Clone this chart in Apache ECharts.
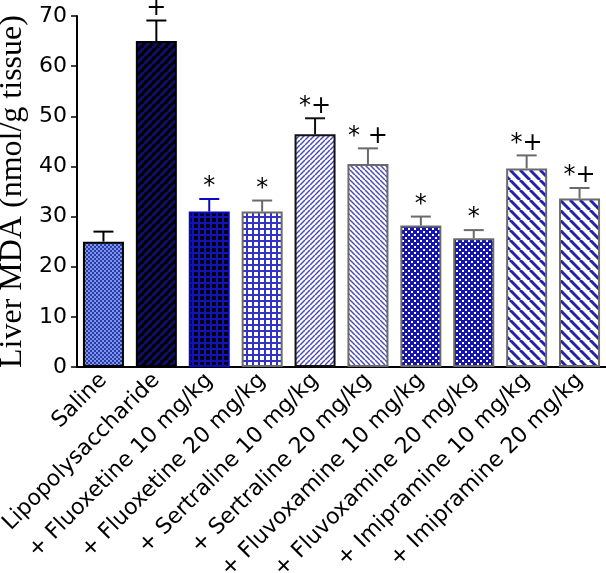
<!DOCTYPE html>
<html>
<head>
<meta charset="utf-8">
<script src="https://cdn.jsdelivr.net/npm/echarts@6/dist/echarts.min.js"></script>
<style>
  html, body { margin: 0; padding: 0; background: #fff; }
  #myChart { width: 606px; height: 573px; }
</style>
</head>
<body>
<div id="myChart"></div>
<script>
const categories = ['Saline', 'Lipopolysaccharide', '+ Fluoxetine 10 mg/kg', '+ Fluoxetine 20 mg/kg',
  '+ Sertraline 10 mg/kg', '+ Sertraline 20 mg/kg', '+ Fluvoxamine 10 mg/kg', '+ Fluvoxamine 20 mg/kg',
  '+ Imipramine 10 mg/kg', '+ Imipramine 20 mg/kg'];
const means = [25, 65, 31, 31, 46.4, 40.5, 28.2, 25.7, 39.6, 33.6];
const errTops = [27, 69.1, 33.5, 33.2, 49.6, 43.6, 30, 27.3, 42.2, 35.7];
const marks = ['', '+', '*', '*', '*+', '* +', '*', '*', '*+', '*+'];
const yTicks = [0, 10, 20, 30, 40, 50, 60, 70];

// small canvas tiles used as fill patterns
function tile(size, draw) {
  const c = document.createElement('canvas');
  c.width = size; c.height = size;
  draw(c.getContext('2d'), size);
  return { image: c, repeat: 'repeat' };
}
function checker(cell, a, b) {
  return tile(cell * 2, (g, s) => {
    g.fillStyle = a; g.fillRect(0, 0, s, s);
    g.fillStyle = b; g.fillRect(0, 0, cell, cell); g.fillRect(cell, cell, cell, cell);
  });
}
function grid(s, bg, line, w) {
  return tile(s, (g) => {
    g.fillStyle = bg; g.fillRect(0, 0, s, s);
    g.fillStyle = line; g.fillRect(0, 0, s, w); g.fillRect(0, 0, w, s);
  });
}
function dots(s, bg, dot, d) {
  return tile(s, (g) => {
    g.fillStyle = bg; g.fillRect(0, 0, s, s);
    g.fillStyle = dot; g.fillRect(0, 0, d, d); g.fillRect(s / 2, s / 2, d, d);
  });
}
function diag(s, bg, line, w, back) {
  return tile(s, (g) => {
    g.fillStyle = bg; g.fillRect(0, 0, s, s);
    g.strokeStyle = line; g.lineWidth = w;
    for (let k = -1; k <= 1; k++) {
      g.beginPath();
      if (back) { g.moveTo(k * s, 0); g.lineTo(k * s + s, s); }
      else { g.moveTo(k * s, s); g.lineTo(k * s + s, 0); }
      g.stroke();
    }
  });
}

const fills = [
  checker(2, '#7c94ec', '#2a3aa6'),
  diag(8, '#000000', '#10106c', 3, false),
  grid(6, '#000010', '#1414b4', 2),
  grid(6, '#ffffff', '#3434c4', 2),
  diag(5, '#ffffff', '#4a4ab8', 1.5, false),
  diag(5, '#ffffff', '#4a4ab8', 1.5, true),
  dots(6, '#1414b0', '#ffffff', 2),
  dots(6, '#1414b0', '#ffffff', 2),
  diag(10, '#ffffff', '#2222aa', 3, true),
  diag(10, '#ffffff', '#2222aa', 3, true)
];
const borders = ['#000', '#000', '#0a0ac0', '#6a6a6a', '#111', '#6a6a6a', '#6a6a6a', '#6a6a6a', '#6a6a6a', '#6a6a6a'];

const myChart = echarts.init(document.getElementById('myChart'));
const option = {
  animation: false,
  grid: { left: 77, right: 0, top: 16, bottom: 206, outerBoundsMode: 'none', containLabel: false },
  xAxis: {
    type: 'category',
    data: categories,
    axisLine: { lineStyle: { color: '#000', width: 2 } },
    axisTick: { show: false },
    axisLabel: {
      interval: 0, rotate: 45, margin: 10,
      color: '#000', fontSize: 22, fontFamily: 'DejaVu Sans'
    }
  },
  yAxis: {
    type: 'value',
    min: 0, max: 70, interval: 10,
    name: 'Liver MDA (nmol/g tissue)',
    nameLocation: 'middle',
    nameGap: 43,
    nameTextStyle: { color: '#000', fontSize: 32, fontFamily: 'Liberation Serif' },
    axisLine: { show: true, lineStyle: { color: '#000', width: 2 } },
    axisTick: { show: true, length: 6, lineStyle: { color: '#000', width: 1.5 } },
    splitLine: { show: false },
    axisLabel: {
      margin: 10, color: '#000', fontSize: 22, fontFamily: 'DejaVu Sans',
      formatter: (v) => yTicks.indexOf(v) >= 0 ? String(v) : ''
    }
  },
  series: [
    {
      type: 'bar',
      barWidth: 41,
      data: means.map((v, i) => ({
        value: v,
        itemStyle: { color: fills[i], borderColor: borders[i], borderWidth: 2 }
      }))
    },
    {
      type: 'custom',
      data: means.map((v, i) => [i, v, errTops[i]]),
      renderItem: function (params, api) {
        const i = params.dataIndex;
        const p0 = api.coord([api.value(0), api.value(1)]);
        const p1 = api.coord([api.value(0), api.value(2)]);
        const col = borders[i];
        const half = 10;
        return {
          type: 'group',
          children: [
            { type: 'line', shape: { x1: p0[0], y1: p0[1], x2: p1[0], y2: p1[1] },
              style: { stroke: col, lineWidth: 2 } },
            { type: 'line', shape: { x1: p1[0] - half, y1: p1[1], x2: p1[0] + half, y2: p1[1] },
              style: { stroke: col, lineWidth: 2 } },
            { type: 'text', x: p1[0], y: p1[1],
              style: { text: marks[i], fill: '#000', font: '24px "DejaVu Sans"',
                       align: 'center', verticalAlign: 'bottom' } }
          ]
        };
      },
      z: 3
    }
  ]
};
myChart.setOption(option);
</script>
</body>
</html>
